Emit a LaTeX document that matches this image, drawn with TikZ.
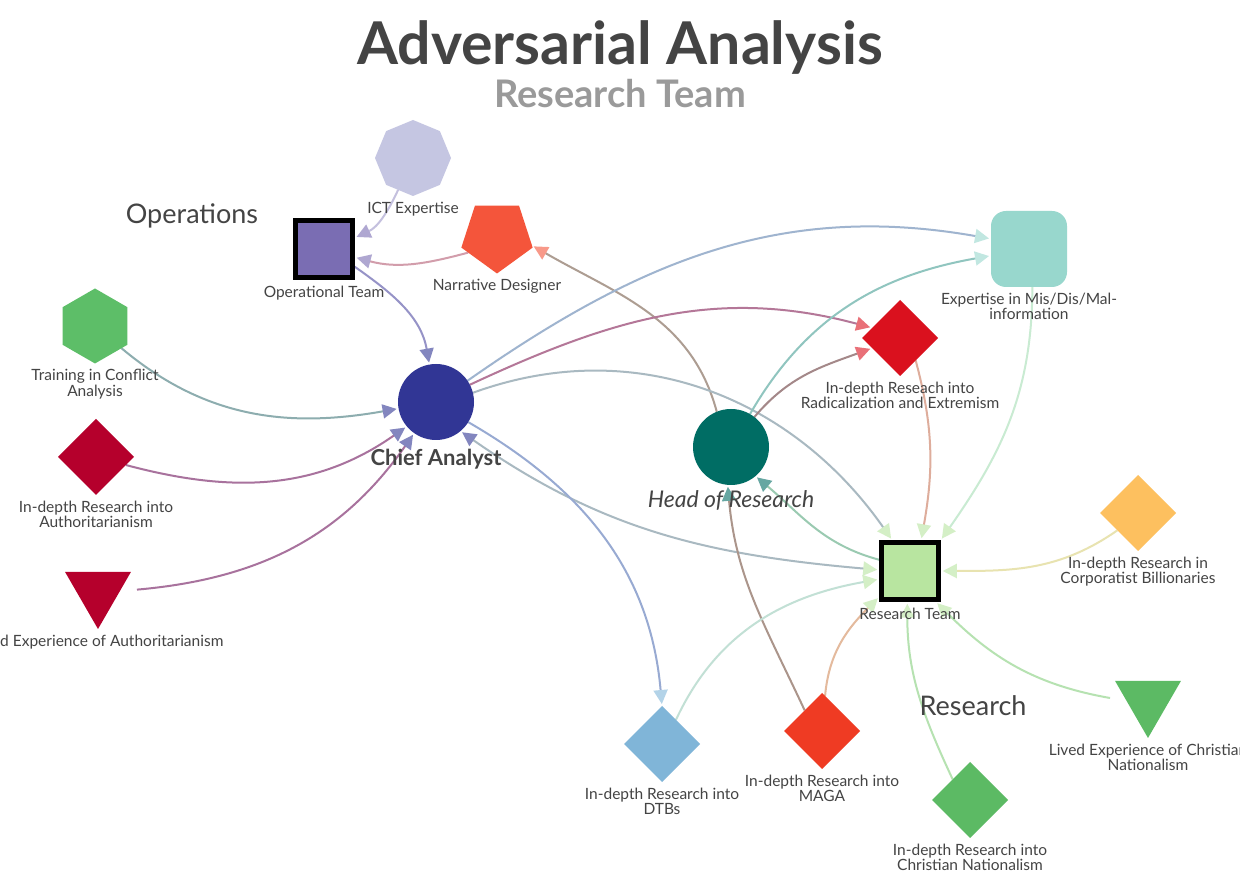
\documentclass[tikz,border=0pt]{standalone}
\usepackage{fontspec}
\setmainfont{Lato}
\usetikzlibrary{shapes.geometric,arrows.meta,backgrounds}

\definecolor{ink}{HTML}{444444}
\definecolor{subink}{HTML}{9A9A9A}
\definecolor{ictc}{HTML}{C5C6E2}
\definecolor{opsc}{HTML}{7A6DB3}
\definecolor{narrc}{HTML}{F4553B}
\definecolor{trainc}{HTML}{5DBE68}
\definecolor{chiefc}{HTML}{313695}
\definecolor{authc}{HTML}{B5002C}
\definecolor{headc}{HTML}{006D64}
\definecolor{misc}{HTML}{98D7CD}
\definecolor{radc}{HTML}{DA111E}
\definecolor{teamc}{HTML}{B8E5A0}
\definecolor{corpc}{HTML}{FDC05F}
\definecolor{dtbc}{HTML}{80B5D8}
\definecolor{magac}{HTML}{EF3B23}
\definecolor{christc}{HTML}{5CBA64}

\begin{document}
\begin{tikzpicture}
[x=1pt,y=1pt,%
  every node/.style={inner sep=0pt,outer sep=0pt},%
  member/.style={fill=#1,minimum size=76pt},%
  team/.style={draw=black,line width=4.5pt,fill=#1,minimum size=57pt,outer sep=2.25pt,label distance=4pt},%
  lbl/.style={font=\fontsize{15.5}{15.5}\selectfont,text=ink,align=center},%
  every label/.style={lbl},%
  label distance=6pt,%
  link/.style 2 args={draw=#1!50!#2!62!white,line width=2pt,shorten >=2pt,%
    -{Triangle[length=14pt,width=14pt,color=#2!60!white]}},%
  twoway/.style={draw=chiefc!50!teamc!62!white,line width=2pt,shorten >=2pt,shorten <=2pt,%
    {Triangle[length=14pt,width=14pt,color=chiefc!60!white]}-{Triangle[length=14pt,width=14pt,color=teamc!60!white]}},%
  group/.style={font=\fontsize{27}{30}\selectfont,text=ink,anchor=base}]
\useasboundingbox (0,0) rectangle (1240,875);

\node[font=\fontsize{59}{60}\selectfont\bfseries,text=ink,anchor=base] (title) at (620,810) {Adversarial Analysis};
\node[font=\fontsize{38}{40}\selectfont\bfseries,text=subink,anchor=base] (subtitle) at (620,767) {Research Team};
\node[group] (operations) at (192,651) {Operations};
\node[group] (research) at (973,159) {Research};

\node[member=ictc,regular polygon,regular polygon sides=8,shape border rotate=22.5,label=below:ICT Expertise] (ict) at (413,717) {};
\node[team=opsc,label=below:Operational Team] (ops) at (324,626) {};
\node[member=narrc,regular polygon,regular polygon sides=5,shape border rotate=180,minimum size=75pt,label=below:Narrative Designer] (narr) at (497,639) {};
\node[member=trainc,regular polygon,regular polygon sides=6,shape border rotate=30,minimum size=75pt,label=below:Training in Conflict\\Analysis] (train) at (95,549) {};
\node[member=chiefc,circle,label={[font=\fontsize{22}{24}\selectfont\bfseries,label distance=9pt]below:Chief Analyst}] (chief) at (436,473) {};
\node[member=authc,diamond,label=below:In-depth Research into\\Authoritarianism] (auth) at (96,418) {};
\node[member=authc,regular polygon,regular polygon sides=3,shape border rotate=180,label=below:Lived Experience of Authoritarianism] (livedauth) at (98,284) {};
\node[member=headc,circle,label={[font=\fontsize{23}{25}\selectfont\itshape]below:Head of Research}] (head) at (731,428) {};
\node[member=misc,rounded corners=15pt,label=below:Expertise in Mis/Dis/Mal-\\information] (mis) at (1029,626) {};
\node[member=radc,diamond,label=below:In-depth Reseach into\\Radicalization and Extremism] (rad) at (900,537) {};
\node[team=teamc,label=below:Research Team] (team) at (910,304) {};
\node[member=corpc,diamond,label=below:In-depth Research in\\Corporatist Billionaries] (corp) at (1138,362) {};
\node[member=dtbc,diamond,label=below:In-depth Research into\\DTBs] (dtb) at (662,131) {};
\node[member=magac,diamond,label=below:In-depth Research into\\MAGA] (maga) at (822,144) {};
\node[member=christc,diamond,label=below:In-depth Research into\\Christian Nationalism] (christ) at (970,75) {};
\node[member=christc,regular polygon,regular polygon sides=3,shape border rotate=180,label=below:Lived Experience of Christian\\Nationalism] (livedchrist) at (1148,175) {};

\begin{scope}[on background layer]
\fill[white] (0,0) rectangle (1240,875);
\draw[link={ictc}{opsc}] (ict) to[out=-115,in=25] (ops.20);
\draw[link={narrc}{opsc}] (narr.210) to[out=195,in=-15] (ops.-15);
\draw[link={opsc}{chiefc}] (ops.-30) to[out=-35,in=100] (chief.100);
\draw[link={headc}{narrc}] (head.112) to[out=105,in=-30] (narr.-15);
\draw[link={trainc}{chiefc}] (train.-40) to[out=-40,in=190] (chief.190);
\draw[link={authc}{chiefc}] (auth.-15) to[out=-15,in=215] (chief.220);
\draw[link={authc}{chiefc}] ([shift={(2:39)}]livedauth.center) to[out=5,in=235] (chief.235);
\draw[link={chiefc}{misc}] (chief.34) to[out=35,in=170] (mis.165);
\draw[link={chiefc}{radc}] (chief.27) to[out=25,in=165] (rad.160);
\draw[link={chiefc}{teamc}] (chief.14) to[out=20,in=125] (team.120);
\draw[twoway] (chief.-50) to[out=-35,in=175] (team.178);
\draw[link={chiefc}{dtbc}] (chief.-32) to[out=-30,in=95] (dtb.north);
\draw[link={headc}{misc}] (head.60) to[out=60,in=190] (mis.190);
\draw[link={headc}{radc}] (head.52) to[out=50,in=200] (rad.200);
\draw[link={teamc}{headc}] (team.160) to[out=165,in=-40] (head.-50);
\draw[link={magac}{headc}] (maga.130) to[out=115,in=-85] (head.-95);
\draw[link={radc}{teamc}] (rad.-55) to[out=-75,in=80] (team.70);
\draw[link={misc}{teamc}] (mis.-85) to[out=-90,in=55] (team.45);
\draw[link={corpc}{teamc}] (corp.220) to[out=215,in=0] (team.east);
\draw[link={dtbc}{teamc}] (dtb.60) to[out=65,in=190] (team.195);
\draw[link={magac}{teamc}] (maga.85) to[out=85,in=225] (team.220);
\draw[link={christc}{teamc}] (christ.130) to[out=115,in=-90] (team.-95);
\draw[link={christc}{teamc}] ([shift={(177:38)}]livedchrist.center) to[out=170,in=-45] (team.-50);
\end{scope}
\end{tikzpicture}
\end{document}
